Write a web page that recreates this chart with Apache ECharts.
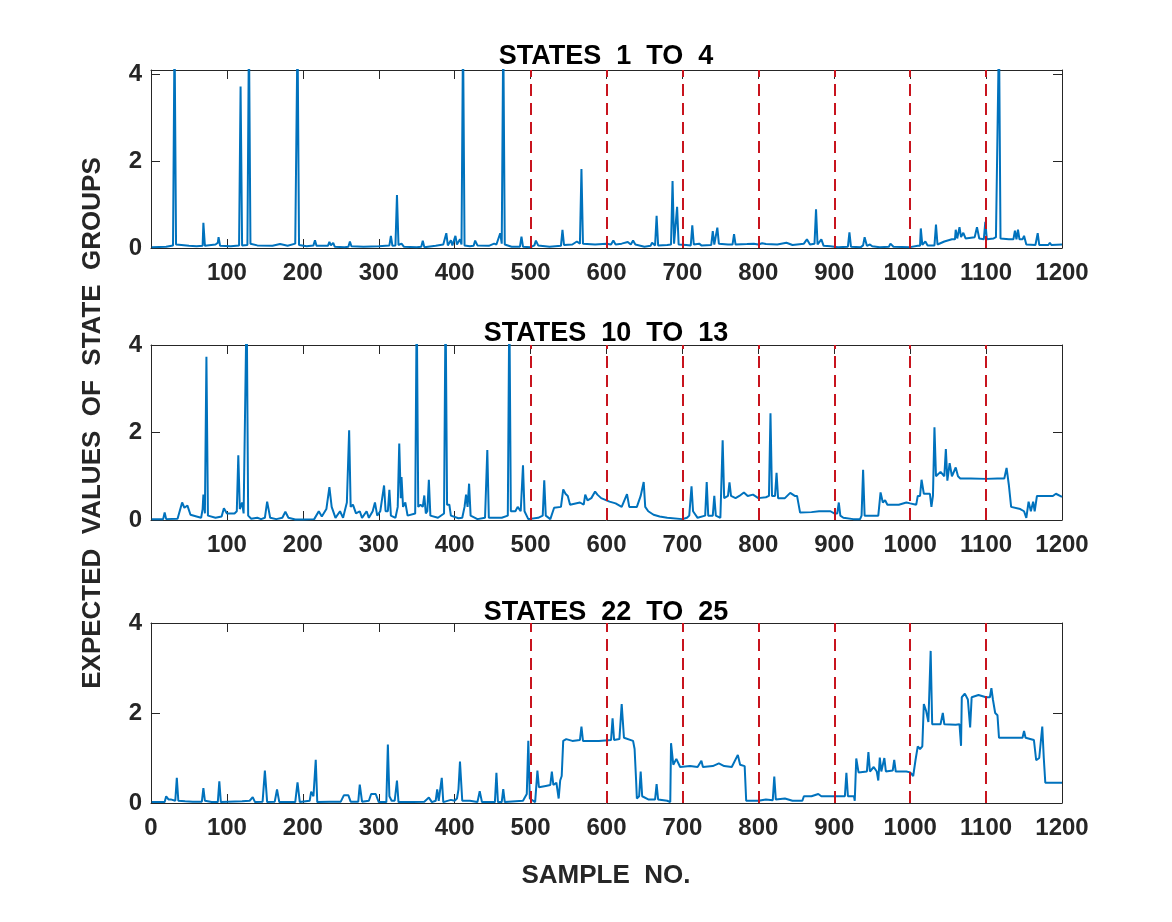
<!DOCTYPE html>
<html>
<head>
<meta charset="utf-8">
<script src="https://cdn.jsdelivr.net/npm/echarts@6/dist/echarts.min.js"></script>
<style>
  html, body { margin: 0; padding: 0; background: #fff; }
  #chart { width: 1172px; height: 922px; }
</style>
</head>
<body>
<div id="chart"></div>
<script>
// sample no. / expected value (spikes above 4 are clipped)
var states1to4 = [[1,0.02],[20,0.03],[29,0.06],[31,5],[33,0.08],[40,0.07],[50,0.05],[60,0.04],[68,0.05],[69,0.58],[71,0.05],[85,0.08],[88,0.12],[89,0.25],[91,0.05],[105,0.04],[116,0.06],[118,3.72],[120,0.06],[127,0.07],[129,5],[131,0.1],[140,0.06],[160,0.05],[170,0.09],[180,0.05],[190,0.1],[193,5],[195,0.07],[205,0.04],[214,0.06],[216,0.18],[218,0.05],[233,0.05],[235,0.14],[237,0.06],[240,0.12],[242,0.03],[255,0.02],[260,0.03],[262,0.15],[264,0.04],[280,0.03],[300,0.04],[314,0.06],[316,0.28],[318,0.05],[322,0.06],[324,1.22],[326,0.07],[330,0.1],[333,0.03],[350,0.02],[356,0.03],[358,0.17],[360,0.02],[375,0.05],[385,0.08],[389,0.34],[391,0.06],[395,0.18],[397,0.06],[401,0.28],[403,0.08],[407,0.2],[409,0.08],[411,5],[413,0.06],[420,0.04],[425,0.05],[427,0.17],[430,0.06],[445,0.05],[452,0.1],[455,0.08],[460,0.34],[462,0.1],[464,5],[466,0.08],[475,0.03],[486,0.03],[488,0.26],[490,0.03],[500,0.02],[505,0.06],[507,0.17],[510,0.06],[525,0.03],[540,0.05],[542,0.42],[544,0.07],[555,0.08],[561,0.15],[565,0.1],[567,1.82],[569,0.1],[585,0.08],[600,0.1],[606,0.08],[609,0.17],[612,0.08],[620,0.1],[628,0.14],[632,0.08],[635,0.17],[638,0.08],[650,0.03],[658,0.05],[660,0.12],[664,0.06],[666,0.74],[668,0.06],[680,0.07],[685,0.08],[687,1.54],[689,0.1],[691,0.08],[693,0.95],[695,0.08],[705,0.07],[711,0.06],[713,0.52],[715,0.08],[722,0.1],[725,0.06],[738,0.07],[740,0.39],[742,0.08],[744,0.08],[746,0.47],[748,0.1],[760,0.08],[766,0.08],[768,0.32],[770,0.08],[785,0.09],[794,0.1],[800,0.08],[805,0.11],[810,0.09],[825,0.08],[837,0.12],[845,0.07],[860,0.1],[864,0.2],[868,0.08],[874,0.1],[876,0.89],[878,0.08],[883,0.2],[886,0.05],[895,0.04],[905,0.02],[918,0.03],[920,0.36],[922,0.03],[935,0.02],[938,0.06],[940,0.25],[943,0.05],[947,0.08],[950,0.04],[960,0.02],[972,0.03],[974,0.1],[978,0.03],[1000,0.02],[1010,0.05],[1013,0.05],[1014,0.45],[1016,0.07],[1020,0.15],[1023,0.06],[1032,0.06],[1034,0.54],[1036,0.08],[1045,0.15],[1055,0.2],[1059,0.2],[1060,0.42],[1062,0.22],[1065,0.48],[1067,0.25],[1070,0.35],[1073,0.22],[1085,0.25],[1088,0.48],[1091,0.22],[1097,0.2],[1099,0.6],[1101,0.2],[1110,0.22],[1113,0.25],[1117,5],[1119,0.22],[1130,0.2],[1136,0.2],[1138,0.4],[1140,0.2],[1142,0.42],[1144,0.2],[1148,0.2],[1150,0.28],[1153,0.08],[1165,0.07],[1168,0.34],[1170,0.07],[1182,0.07],[1184,0.12],[1186,0.07],[1200,0.08]];

var states10to13 = [[1,0.02],[16,0.02],[18,0.17],[20,0.02],[35,0.03],[41,0.4],[44,0.28],[48,0.33],[52,0.12],[60,0.08],[66,0.05],[68,0.25],[69,0.58],[71,0.15],[73,3.73],[75,0.1],[85,0.05],[93,0.08],[96,0.27],[100,0.15],[110,0.15],[113,0.2],[115,1.48],[117,0.25],[120,0.4],[122,0.15],[124,0.15],[126,5],[128,0.1],[132,0.03],[140,0.05],[145,0.02],[150,0.05],[153,0.42],[157,0.05],[165,0.02],[173,0.05],[177,0.19],[181,0.05],[190,0.01],[200,0.01],[215,0.02],[221,0.2],[225,0.08],[231,0.25],[235,0.75],[238,0.3],[243,0.05],[249,0.2],[253,0.05],[258,0.4],[261,2.05],[263,0.3],[266,0.35],[270,0.15],[275,0.2],[278,0.05],[284,0.2],[287,0.05],[292,0.2],[295,0.4],[298,0.1],[302,0.2],[307,0.79],[309,0.2],[312,0.2],[314,0.69],[316,0.1],[322,0.05],[325,0.3],[327,1.75],[329,0.5],[330,0.98],[332,0.3],[335,0.4],[338,0.1],[348,0.15],[350,5],[352,0.3],[355,0.35],[358,0.3],[360,0.56],[362,0.15],[364,0.2],[366,0.92],[368,0.1],[378,0.05],[386,0.15],[388,5],[390,0.35],[393,0.35],[395,0.1],[405,0.04],[410,0.05],[413,0.3],[415,0.58],[417,0.3],[419,0.83],[421,0.1],[430,0.02],[440,0.05],[443,1.6],[445,0.05],[462,0.05],[470,0.1],[472,5],[474,0.2],[480,0.2],[483,0.3],[487,0.2],[490,1.25],[492,0.2],[497,0.02],[510,0.05],[516,0.1],[518,0.91],[520,0.1],[526,0.02],[531,0.28],[540,0.3],[543,0.7],[546,0.6],[549,0.55],[552,0.35],[565,0.4],[570,0.35],[572,0.58],[575,0.45],[580,0.5],[585,0.65],[588,0.58],[593,0.5],[600,0.45],[604,0.42],[612,0.38],[620,0.3],[627,0.59],[630,0.3],[640,0.3],[645,0.55],[649,0.87],[651,0.3],[655,0.2],[662,0.12],[670,0.08],[680,0.05],[700,0.02],[706,0.05],[709,0.1],[712,0.77],[714,0.2],[720,0.05],[730,0.1],[732,0.87],[734,0.1],[740,0.1],[742,0.55],[744,0.1],[750,0.05],[752,0.05],[753,1.82],[755,0.5],[760,0.55],[762,0.86],[764,0.55],[770,0.5],[775,0.55],[781,0.63],[786,0.55],[793,0.58],[800,0.5],[810,0.52],[814,0.55],[816,2.44],[818,0.55],[822,0.55],[824,1.08],[826,0.5],[835,0.5],[842,0.62],[848,0.55],[851,0.55],[855,0.17],[870,0.18],[880,0.2],[895,0.2],[900,0.15],[904,0.15],[906,0.4],[908,0.1],[912,0.05],[925,0.02],[934,0.02],[936,0.1],[938,1.15],[940,0.1],[950,0.1],[958,0.1],[961,0.63],[964,0.4],[967,0.45],[970,0.35],[985,0.35],[995,0.4],[1000,0.38],[1008,0.35],[1010,0.55],[1013,0.55],[1015,0.92],[1018,0.6],[1026,0.6],[1028,0.3],[1030,0.55],[1032,2.12],[1034,1.0],[1040,1.1],[1045,1.0],[1047,1.62],[1049,0.9],[1052,1.3],[1055,1.0],[1060,1.2],[1063,1.0],[1066,0.95],[1080,0.95],[1100,0.94],[1115,0.95],[1124,0.95],[1127,1.19],[1130,0.8],[1133,0.3],[1145,0.25],[1150,0.2],[1153,0.05],[1156,0.42],[1159,0.2],[1162,0.42],[1164,0.2],[1167,0.55],[1180,0.55],[1188,0.55],[1192,0.6],[1200,0.53]];

var states22to25 = [[1,0.02],[18,0.02],[20,0.15],[23,0.08],[26,0.08],[32,0.05],[34,0.56],[36,0.05],[45,0.04],[55,0.03],[67,0.03],[69,0.33],[71,0.05],[80,0.02],[88,0.02],[90,0.48],[92,0.02],[120,0.04],[130,0.05],[134,0.13],[137,0.02],[147,0.03],[150,0.72],[153,0.02],[163,0.03],[166,0.3],[169,0.02],[190,0.02],[193,0.46],[196,0.02],[209,0.05],[211,0.25],[214,0.15],[217,0.96],[219,0.02],[235,0.03],[250,0.03],[254,0.17],[260,0.17],[263,0.03],[273,0.03],[275,0.41],[278,0.03],[287,0.05],[290,0.2],[296,0.2],[300,0.02],[310,0.02],[312,1.3],[314,0.15],[317,0.05],[321,0.05],[324,0.5],[326,0.02],[345,0.02],[360,0.03],[366,0.12],[370,0.02],[375,0.05],[377,0.3],[379,0.05],[381,0.05],[383,0.56],[385,0.02],[395,0.07],[400,0.05],[403,0.1],[405,0.3],[407,0.92],[410,0.05],[420,0.05],[430,0.02],[433,0.26],[436,0.02],[453,0.02],[455,0.67],[457,0.02],[462,0.02],[464,0.31],[466,0.02],[490,0.05],[495,0.2],[497,1.38],[499,0.1],[506,0.02],[509,0.72],[511,0.35],[520,0.38],[526,0.4],[528,0.7],[530,0.4],[534,0.45],[537,0.1],[539,0.5],[541,0.6],[543,1.38],[547,1.42],[555,1.38],[565,1.4],[567,1.7],[569,1.38],[590,1.38],[606,1.4],[608,1.88],[610,1.4],[617,1.42],[620,2.2],[623,1.45],[635,1.38],[637,1.2],[639,0.5],[640,0.1],[643,0.15],[645,0.7],[647,0.15],[655,0.08],[664,0.08],[666,0.42],[668,0.08],[680,0.05],[684,0.02],[685,1.33],[688,0.85],[692,0.98],[697,0.8],[710,0.82],[720,0.8],[725,0.94],[727,0.8],[740,0.82],[748,0.88],[755,0.82],[765,0.8],[773,1.07],[776,0.85],[782,0.82],[784,0.05],[800,0.05],[810,0.08],[819,0.06],[821,0.59],[823,0.08],[835,0.1],[845,0.05],[858,0.05],[860,0.15],[870,0.15],[879,0.2],[883,0.15],[900,0.15],[914,0.15],[916,0.67],[918,0.15],[926,0.15],[927,0.05],[929,0.99],[932,0.68],[943,0.7],[945,1.13],[947,0.7],[952,0.8],[956,0.7],[958,0.5],[960,1.01],[962,0.7],[964,0.7],[966,1.0],[968,0.7],[977,0.72],[979,0.96],[981,0.7],[995,0.7],[1000,0.68],[1004,0.6],[1007,0.95],[1010,1.26],[1013,1.2],[1016,1.26],[1018,2.2],[1021,2.05],[1024,1.8],[1027,3.38],[1029,1.75],[1040,1.75],[1043,2.0],[1045,1.75],[1060,1.74],[1065,1.75],[1067,1.27],[1068,2.35],[1072,2.43],[1076,2.3],[1079,1.68],[1081,2.35],[1090,2.4],[1100,2.35],[1105,2.35],[1107,2.55],[1109,2.3],[1112,2.0],[1115,1.95],[1117,1.45],[1140,1.45],[1148,1.45],[1150,1.6],[1152,1.45],[1163,1.4],[1166,0.95],[1170,1.0],[1172,1.0],[1174,1.7],[1176,1.0],[1178,0.45],[1200,0.45]];

var titles = ['STATES  1  TO  4', 'STATES  10  TO  13', 'STATES  22  TO  25'];
var yMax = [4.1, 4, 4];
var boundaries = [500, 600, 700, 800, 900, 1000, 1100];

var font = '"Liberation Sans", Arial, Helvetica, sans-serif';
var ink = '#262626';

var grids = [
  { left: 151, width: 911, top: 70, height: 178 },
  { left: 151, width: 911, top: 345, height: 175 },
  { left: 151, width: 911, top: 623, height: 180 }
];
var allSeries = [states1to4, states10to13, states22to25];
var titleY = [57, 334, 613];

var xAxes = [], yAxes = [], series = [], graphics = [];

grids.forEach(function (g, i) {
  // bottom + mirrored top
  xAxes.push({
    gridIndex: i, type: 'value', min: 0, max: 1200, interval: 100,
    axisLine: { onZero: false, lineStyle: { color: ink, width: 1 } },
    axisTick: { inside: true, length: 9, lineStyle: { color: ink } },
    axisLabel: {
      margin: 13, color: ink, fontSize: 24, fontWeight: 'bold', fontFamily: font,
      formatter: function (v) { return (v === 0 && i < 2) ? '' : String(v); }
    },
    splitLine: { show: false }
  });
  xAxes.push({
    gridIndex: i, type: 'value', position: 'top', min: 0, max: 1200, interval: 100,
    axisLine: { onZero: false, lineStyle: { color: ink, width: 1 } },
    axisTick: { inside: true, length: 9, lineStyle: { color: ink } },
    axisLabel: { show: false },
    splitLine: { show: false }
  });
  yAxes.push({
    gridIndex: i, type: 'value', min: 0, max: yMax[i], interval: 2,
    axisLine: { show: true, onZero: false, lineStyle: { color: ink, width: 1 } },
    axisTick: { show: true, inside: true, length: 9, lineStyle: { color: ink } },
    axisLabel: {
      margin: 9, color: ink, fontSize: 24, fontWeight: 'bold', fontFamily: font,
      showMaxLabel: yMax[i] === 4
    },
    splitLine: { show: false }
  });
  yAxes.push({
    gridIndex: i, type: 'value', position: 'right', min: 0, max: yMax[i], interval: 2,
    axisLine: { show: true, onZero: false, lineStyle: { color: ink, width: 1 } },
    axisTick: { show: true, inside: true, length: 9, lineStyle: { color: ink } },
    axisLabel: { show: false },
    splitLine: { show: false }
  });

  series.push({
    type: 'line',
    xAxisIndex: i * 2,
    yAxisIndex: i * 2,
    data: allSeries[i],
    showSymbol: false,
    clip: true,
    lineStyle: { color: '#0072BD', width: 2 },
    z: 2,
    markLine: {
      silent: true,
      symbol: 'none',
      label: { show: false },
      lineStyle: { color: '#C8141E', width: 2, type: [12, 7], opacity: 1 },
      data: boundaries.map(function (b) { return { xAxis: b }; })
    }
  });

  graphics.push({
    type: 'text', x: 606, y: titleY[i],
    style: {
      text: titles[i], font: 'bold 27px ' + font, fill: '#000',
      textAlign: 'center', textVerticalAlign: 'middle'
    }
  });
});

graphics.push({
  type: 'text', x: 606, y: 876,
  style: {
    text: 'SAMPLE  NO.', font: 'bold 26px ' + font, fill: ink,
    textAlign: 'center', textVerticalAlign: 'middle'
  }
});
graphics.push({
  type: 'text', x: 93, y: 423, rotation: Math.PI / 2,
  style: {
    text: 'EXPECTED  VALUES  OF  STATE  GROUPS', font: 'bold 26px ' + font, fill: ink,
    textAlign: 'center', textVerticalAlign: 'middle'
  }
});

var echart = echarts.init(document.getElementById('chart'));
var option = {
  backgroundColor: '#fff',
  animation: false,
  grid: grids,
  xAxis: xAxes,
  yAxis: yAxes,
  series: series,
  graphic: graphics
};
echart.setOption(option);

window.onresize = function () {
  echart.resize();
};
</script>
</body>
</html>
